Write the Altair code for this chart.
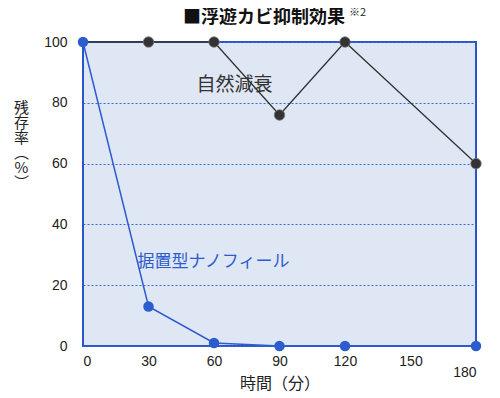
import altair as alt
import pandas as pd

minutes = [0, 30, 60, 90, 120, 180]
natural = [100, 100, 100, 76, 100, 60]
nanofeel = [100, 13, 1, 0, 0, 0]

df = pd.DataFrame({"t": minutes * 2,
                   "v": natural + nanofeel,
                   "s": ["自然減衰"] * 6 + ["据置型ナノフィール"] * 6})

labels = pd.DataFrame({"t": [52, 25], "v": [86, 27.5],
                       "txt": ["自然減衰", "据置型ナノフィール"],
                       "s": ["自然減衰", "据置型ナノフィール"],
                       "fs": [19, 17]})

FONT = "Noto Sans CJK JP"
NUMFONT = "Liberation Sans"

x = alt.X("t:Q", scale=alt.Scale(domain=[0, 180], nice=False),
          axis=alt.Axis(values=[0, 30, 60, 90, 120, 150, 180], title="時間（分）",
                        grid=False, ticks=False, domain=False,
                        labelPadding={"condition": {"test": "datum.value == 180", "value": 19}, "value": 8},
                        labelFont=NUMFONT, labelFontSize=14, labelColor="#222",
                        titleFont=FONT, titleFontSize=16, titleFontWeight="normal",
                        titleColor="#222", titleBaseline="middle", titleY=37))
y = alt.Y("v:Q", scale=alt.Scale(domain=[0, 100], nice=False),
          axis=alt.Axis(values=[0, 20, 40, 60, 80, 100],
                        title=["残", "存", "率", "︵", "%", "︶"], titleAngle=0,
                        titleAlign="center", titleBaseline="middle", titleX=-62, titleY=65,
                        titleFont=FONT, titleFontSize=15, titleFontWeight="normal",
                        titleColor="#222", titleLineHeight=15,
                        grid=True, gridColor="#3a6ad8", gridDash=[2, 2], gridWidth=1.2,
                        ticks=False, domain=False, labelPadding=16,
                        labelFont=NUMFONT, labelFontSize=14, labelColor="#222"))

color = alt.Color("s:N", scale=alt.Scale(domain=["自然減衰", "据置型ナノフィール"],
                                         range=["#333333", "#2d5ccf"]), legend=None)

nat = df[df.s == "自然減衰"]
nano = df[df.s == "据置型ナノフィール"]

line_nat = alt.Chart(nat).mark_line(strokeWidth=1.3).encode(x=x, y=y, color=color)
pts_nat = alt.Chart(nat[nat.t > 0]).mark_point(filled=True, size=110, opacity=1,
                                               stroke="#777", strokeWidth=0.8).encode(x=x, y=y, color=color)
line_nano = alt.Chart(nano).mark_line(strokeWidth=1.5).encode(x=x, y=y, color=color)
pts_nano = alt.Chart(nano).mark_point(filled=True, size=110, opacity=1).encode(x=x, y=y, color=color)

txt = alt.Chart(labels).mark_text(align="left", baseline="middle", font=FONT).encode(
    x=x, y=y, text="txt:N", color=color, size=alt.Size("fs:Q", scale=None, legend=None))

title = alt.Chart(pd.DataFrame({"n": ["■浮遊カビ抑制効果"]})).mark_text(
    align="center", baseline="alphabetic", font=FONT, fontSize=18, fontWeight="bold", color="#111"
).encode(x=alt.value(181), y=alt.value(-19), text="n:N")

note = alt.Chart(pd.DataFrame({"n": ["※2"]})).mark_text(
    align="left", baseline="alphabetic", font=FONT, fontSize=11, color="#222"
).encode(x=alt.value(266), y=alt.value(-26), text="n:N")

chart = alt.layer(line_nat, pts_nat, line_nano, pts_nano, txt, title, note).properties(
    width=393, height=304,
    padding={"left": 75, "top": 34, "right": 16, "bottom": 52},
    autosize="none",
    background="white",
).configure_view(fill="#dfe7f4", stroke="#2a55c8", strokeWidth=2)

chart.save("out.html", embed_options={"renderer": "svg", "actions": False})
